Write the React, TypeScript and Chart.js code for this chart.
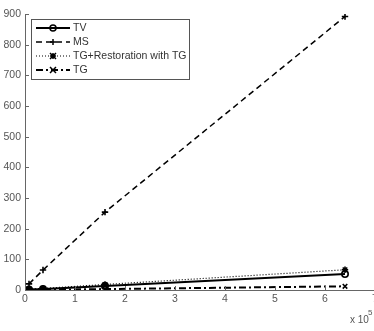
import React, { useEffect, useRef } from "react";
import { Chart, registerables } from "chart.js";

Chart.register(...registerables);

const xValues = [0.08, 0.36, 1.6, 6.4];
const tvValues = [2, 3, 13, 52];
const msValues = [20, 65, 254, 892];
const tgRestValues = [3, 5, 18, 66];
const tgValues = [1, 1, 3, 12];
const yTicks = [0, 100, 200, 300, 400, 500, 600, 700, 800, 900];
const xTicks = [0, 1, 2, 3, 4, 5, 6, 7];
const seriesNames = ["TV", "MS", "TG+Restoration with TG", "TG"];
const xExponentLabel = "x 10";
const xExponent = "5";

const FONT = "Liberation Sans, Arial, sans-serif";

const toPoints = (vals: number[]) => vals.map((v, i) => ({ x: xValues[i], y: v }));

const styles = [
  { dash: [] as number[], pointStyle: "circle", width: 2 },
  { dash: [6, 4], pointStyle: "cross", width: 1.5 },
  { dash: [1, 2], pointStyle: "star", width: 1.2 },
  { dash: [7, 3, 2, 3], pointStyle: "crossRot", width: 2 },
];

const customPlugin = {
  id: "custom",
  afterDraw(chart: any) {
    const ctx = chart.ctx;
    const area = chart.chartArea;
    const xs = chart.scales.x;
    const ys = chart.scales.y;
    ctx.save();
    ctx.strokeStyle = "#666";
    ctx.lineWidth = 1;
    ctx.setLineDash([]);
    yTicks.forEach((t) => {
      const y = Math.round(ys.getPixelForValue(t)) + 0.5;
      ctx.beginPath();
      ctx.moveTo(area.left, y);
      ctx.lineTo(area.left + 4, y);
      ctx.stroke();
    });
    xTicks.forEach((t) => {
      const x = Math.round(xs.getPixelForValue(t)) + 0.5;
      ctx.beginPath();
      ctx.moveTo(x, area.bottom);
      ctx.lineTo(x, area.bottom - 4);
      ctx.stroke();
    });
    ctx.fillStyle = "#555";
    ctx.font = `10px ${FONT}`;
    ctx.textBaseline = "alphabetic";
    ctx.textAlign = "left";
    ctx.fillText(xExponentLabel, 350, 323);
    ctx.font = `8px ${FONT}`;
    ctx.fillText(xExponent, 368, 315);

    const lx = 31, ly = 19, lw = 158, lh = 60;
    ctx.fillStyle = "#fff";
    ctx.fillRect(lx, ly, lw, lh);
    ctx.strokeStyle = "#555";
    ctx.lineWidth = 1;
    ctx.strokeRect(lx + 0.5, ly + 0.5, lw, lh);
    chart.data.datasets.forEach((ds: any, i: number) => {
      const y = ly + 9 + i * 14;
      const st = styles[i];
      ctx.strokeStyle = "#000";
      ctx.lineWidth = st.width;
      ctx.setLineDash(st.dash);
      ctx.beginPath();
      ctx.moveTo(36, y);
      ctx.lineTo(70, y);
      ctx.stroke();
      ctx.setLineDash([]);
      drawMarker(ctx, st.pointStyle, 53, y);
      ctx.fillStyle = "#333";
      ctx.font = `10.5px ${FONT}`;
      ctx.textBaseline = "middle";
      ctx.fillText(ds.label, 73, y);
    });
    ctx.restore();
  },
};

function drawMarker(ctx: CanvasRenderingContext2D, style: string, x: number, y: number) {
  ctx.save();
  ctx.strokeStyle = "#000";
  ctx.lineWidth = 1.5;
  ctx.setLineDash([]);
  const r = 3;
  ctx.beginPath();
  if (style === "circle") {
    ctx.arc(x, y, r, 0, Math.PI * 2);
  } else if (style === "cross") {
    ctx.moveTo(x - r, y); ctx.lineTo(x + r, y);
    ctx.moveTo(x, y - r); ctx.lineTo(x, y + r);
  } else if (style === "crossRot") {
    ctx.moveTo(x - r, y - r); ctx.lineTo(x + r, y + r);
    ctx.moveTo(x + r, y - r); ctx.lineTo(x - r, y + r);
  } else {
    ctx.moveTo(x - r, y); ctx.lineTo(x + r, y);
    ctx.moveTo(x, y - r); ctx.lineTo(x, y + r);
    ctx.moveTo(x - r, y - r); ctx.lineTo(x + r, y + r);
    ctx.moveTo(x + r, y - r); ctx.lineTo(x - r, y + r);
  }
  ctx.stroke();
  ctx.restore();
}

export default function App() {
  const ref = useRef<HTMLCanvasElement>(null);
  useEffect(() => {
    document.body.style.margin = "0";
    const seriesData = [tvValues, msValues, tgRestValues, tgValues];
    const chart = new Chart(ref.current!, {
      type: "line",
      data: {
        datasets: seriesData.map((vals, i) => ({
          label: seriesNames[i],
          data: toPoints(vals),
          borderColor: "#000",
          backgroundColor: "#000",
          borderWidth: styles[i].width,
          borderDash: styles[i].dash,
          pointStyle: styles[i].pointStyle as any,
          pointRadius: 3.2,
          pointBorderWidth: 1.6,
          pointBackgroundColor: "rgba(0,0,0,0)",
          pointBorderColor: "#000",
          tension: 0,
        })),
      },
      options: {
        animation: false,
        responsive: false,
        layout: { padding: { top: 14, right: 25, left: 0, bottom: 0 } },
        plugins: { legend: { display: false }, tooltip: { enabled: false } },
        scales: {
          x: {
            type: "linear",
            min: 0,
            max: 7,
            grid: { display: false, drawTicks: false },
            border: { display: true, color: "#666" },
            ticks: {
              stepSize: 1,
              padding: 3,
              color: "#555",
              font: { family: FONT, size: 10.5 },
            },
            afterFit: (s: any) => { s.height = 41; },
          },
          y: {
            type: "linear",
            min: 0,
            max: 900,
            grid: { display: false, drawTicks: false },
            border: { display: true, color: "#666" },
            ticks: {
              stepSize: 100,
              padding: 4,
              color: "#555",
              font: { family: FONT, size: 10.5 },
            },
            afterFit: (s: any) => { s.width = 25; },
          },
        },
      },
      plugins: [customPlugin],
    });
    return () => chart.destroy();
  }, []);
  return (
    <div style={{ width: 374, height: 331, overflow: "hidden", position: "relative", background: "#fff" }}>
      <canvas ref={ref} width={400} height={331} style={{ display: "block" }} />
    </div>
  );
}
